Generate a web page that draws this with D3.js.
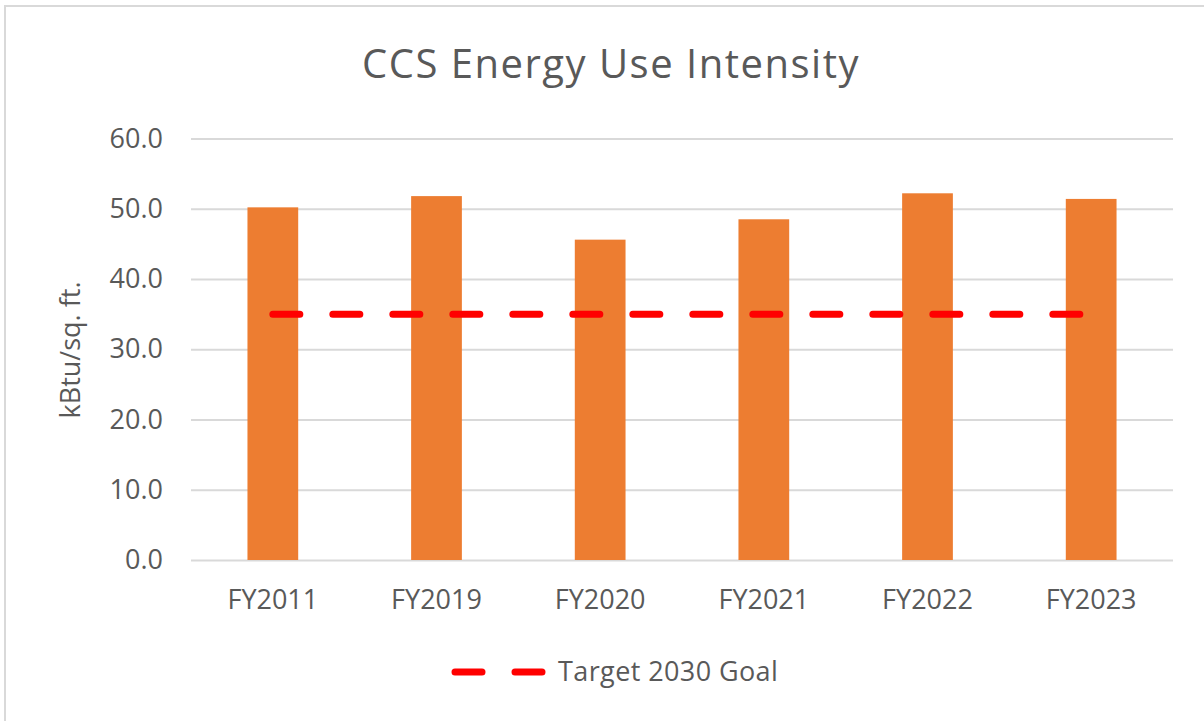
<!DOCTYPE html>
<html>
<head>
<meta charset="utf-8">
<script src="https://cdn.jsdelivr.net/npm/d3@7"></script>
<style>
  body { margin: 0; background: #fff; }
  svg text { font-family: "Open Sans", sans-serif; fill: #595959; }
</style>
</head>
<body>
<svg id="chart"></svg>
<script>
const categories = ["FY2011", "FY2019", "FY2020", "FY2021", "FY2022", "FY2023"];
const euiValues = [50.2, 51.8, 45.6, 48.5, 52.2, 51.4];
const targetValues = [35, 35, 35, 35, 35, 35];
const yTicks = [0, 10, 20, 30, 40, 50, 60];

const width = 1204;
const height = 721;
const margin = { top: 138.5, right: 31, bottom: 161, left: 191 };

const svg = d3.select("#chart")
  .attr("width", width)
  .attr("height", height);

// chart frame
svg.append("rect")
  .attr("x", 5)
  .attr("y", 6)
  .attr("width", width + 10)
  .attr("height", height + 10)
  .attr("fill", "#fff")
  .attr("stroke", "#d9d9d9")
  .attr("stroke-width", 2);

const x = d3.scaleBand()
  .domain(categories)
  .range([margin.left, width - margin.right])
  .paddingInner(0.69)
  .paddingOuter(0.345);

const y = d3.scaleLinear()
  .domain([0, 60])
  .range([height - margin.bottom, margin.top]);

// gridlines + y labels
const yAxis = svg.append("g")
  .attr("transform", `translate(${margin.left},0)`)
  .call(d3.axisLeft(y)
    .tickValues(yTicks)
    .tickSize(-(width - margin.left - margin.right))
    .tickPadding(28)
    .tickFormat(d3.format(".1f")));

yAxis.select(".domain").remove();
yAxis.selectAll("line")
  .attr("stroke", "#d9d9d9")
  .attr("stroke-width", 2);
yAxis.selectAll("text")
  .attr("font-size", 27)
  .attr("fill", "#595959");

svg.selectAll(".bar")
  .data(categories)
  .enter()
  .append("rect")
  .attr("class", "bar")
  .attr("x", d => x(d))
  .attr("width", x.bandwidth())
  .attr("y", (d, i) => y(euiValues[i]))
  .attr("height", (d, i) => y(0) - y(euiValues[i]))
  .attr("fill", "#ed7d31");

// x labels
const xAxis = svg.append("g")
  .attr("transform", `translate(0,${y(0)})`)
  .call(d3.axisBottom(x).tickSize(0).tickPadding(30));
xAxis.select(".domain").remove();
xAxis.selectAll("text")
  .attr("font-size", 27)
  .attr("fill", "#595959");

// target line
const line = d3.line()
  .x((d, i) => x(categories[i]) + x.bandwidth() / 2)
  .y(d => y(d));

svg.append("path")
  .datum(targetValues)
  .attr("d", line)
  .attr("fill", "none")
  .attr("stroke", "#ff0000")
  .attr("stroke-width", 7)
  .attr("stroke-linecap", "round")
  .attr("stroke-dasharray", "27,33");

svg.append("text")
  .attr("x", 611)
  .attr("y", 77.5)
  .attr("text-anchor", "middle")
  .attr("font-size", 40)
  .attr("letter-spacing", 1.5)
  .text("CCS Energy Use Intensity");

svg.append("text")
  .attr("transform", "translate(80,350) rotate(-90)")
  .attr("text-anchor", "middle")
  .attr("font-size", 27)
  .text("kBtu/sq. ft.");

// legend
const legend = svg.append("g").attr("transform", "translate(455,672)");
legend.append("line")
  .attr("x1", 0)
  .attr("x2", 87)
  .attr("stroke", "#ff0000")
  .attr("stroke-width", 7)
  .attr("stroke-linecap", "round")
  .attr("stroke-dasharray", "27,33");
legend.append("text")
  .attr("x", 103)
  .attr("dy", "0.35em")
  .attr("font-size", 27)
  .attr("letter-spacing", 0.4)
  .text("Target 2030 Goal");
</script>
</body>
</html>
